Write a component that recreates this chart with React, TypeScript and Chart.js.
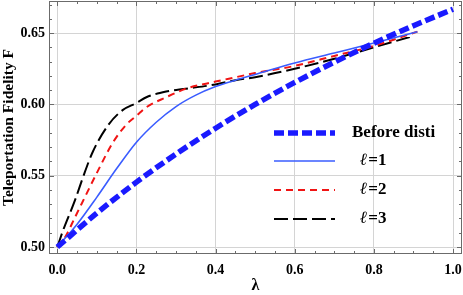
import React, { useEffect, useRef } from 'react';
import { Chart, registerables } from 'chart.js';

Chart.register(...registerables);

// ---- data ----
const lambdaBefore = [0, 0.1, 0.2, 0.3, 0.4, 0.5, 0.6, 0.7, 0.8, 0.9, 1.0];
const fidelityBefore = [0.5, 0.5238, 0.5455, 0.5652, 0.5833, 0.6, 0.6154, 0.6296, 0.6429, 0.6552, 0.6667];

const lambdaL1 = [0, 0.05, 0.1, 0.15, 0.2, 0.25, 0.3, 0.35, 0.4, 0.45, 0.5, 0.6, 0.7, 0.8, 0.91];
const fidelityL1 = [0.5, 0.516, 0.535, 0.555, 0.5735, 0.5875, 0.5985, 0.6065, 0.6125, 0.617, 0.621, 0.629, 0.636, 0.643, 0.651];

const lambdaL2 = [0, 0.02, 0.045, 0.075, 0.1, 0.14, 0.175, 0.2, 0.225, 0.275, 0.325, 0.4, 0.45, 0.5, 0.6, 0.7, 0.8, 0.91];
const fidelityL2 = [0.5, 0.507, 0.521, 0.538, 0.552, 0.573, 0.586, 0.592, 0.598, 0.605, 0.611, 0.616, 0.619, 0.622, 0.627, 0.634, 0.641, 0.651];

const lambdaL3 = [0, 0.015, 0.045, 0.065, 0.09, 0.13, 0.165, 0.2, 0.225, 0.275, 0.325, 0.4, 0.45, 0.5, 0.6, 0.7, 0.8, 0.9];
const fidelityL3 = [0.5, 0.512, 0.533, 0.549, 0.567, 0.586, 0.596, 0.601, 0.605, 0.609, 0.611, 0.614, 0.617, 0.619, 0.625, 0.632, 0.640, 0.648];

const xMajorTicks = [0, 0.2, 0.4, 0.6, 0.8, 1.0];
const yMajorTicks = [0.5, 0.55, 0.6, 0.65];
const xMinorTicks = [0.05, 0.1, 0.15, 0.25, 0.3, 0.35, 0.45, 0.5, 0.55, 0.65, 0.7, 0.75, 0.85, 0.9, 0.95];
const yMinorTicks = [0.51, 0.52, 0.53, 0.54, 0.56, 0.57, 0.58, 0.59, 0.61, 0.62, 0.63, 0.64, 0.66, 0.67];

const seriesLabels = ['Before disti', 'ℓ=1', 'ℓ=2', 'ℓ=3'];
const xTitle = 'λ';
const yTitle = 'Teleportation Fidelity F';

const toPoints = (xs: number[], ys: number[]) => xs.map((x, i) => ({ x, y: ys[i] }));

const SERIF = "'Liberation Serif', 'Times New Roman', serif";

const zeroPad = (scale: any) => {
  scale.paddingLeft = 0;
  scale.paddingRight = 0;
  scale.paddingTop = 0;
  scale.paddingBottom = 0;
};

const framePlugin = {
  id: 'framePlugin',
  afterDatasetsDraw(chart: any) {
    const { ctx, chartArea: a, scales } = chart;
    const xs = scales.x;
    const ys = scales.y;
    ctx.save();
    ctx.strokeStyle = '#6b6b6b';
    ctx.lineWidth = 1;
    ctx.setLineDash([]);
    ctx.strokeRect(a.left + 0.5, a.top + 0.5, a.right - a.left - 1, a.bottom - a.top - 1);
    const tick = (x1: number, y1: number, x2: number, y2: number) => {
      ctx.beginPath();
      ctx.moveTo(x1, y1);
      ctx.lineTo(x2, y2);
      ctx.stroke();
    };
    xMajorTicks.forEach((v) => {
      const p = Math.round(xs.getPixelForValue(v)) + 0.5;
      tick(p, a.bottom, p, a.bottom - 5);
      tick(p, a.top, p, a.top + 5);
    });
    xMinorTicks.forEach((v) => {
      const p = Math.round(xs.getPixelForValue(v)) + 0.5;
      tick(p, a.bottom, p, a.bottom - 3);
      tick(p, a.top, p, a.top + 3);
    });
    yMajorTicks.forEach((v) => {
      const p = Math.round(ys.getPixelForValue(v)) + 0.5;
      tick(a.left, p, a.left + 5, p);
      tick(a.right, p, a.right - 5, p);
    });
    yMinorTicks.forEach((v) => {
      const p = Math.round(ys.getPixelForValue(v)) + 0.5;
      tick(a.left, p, a.left + 3, p);
      tick(a.right, p, a.right - 3, p);
    });
    ctx.restore();
  },
};

const legendPlugin = {
  id: 'customLegend',
  afterDraw(chart: any) {
    const { ctx } = chart;
    const rowsY = [133, 161, 190, 219];
    const lineX1 = 274;
    const lineX2 = 335;
    ctx.save();
    chart.data.datasets.forEach((ds: any, i: number) => {
      const y = rowsY[i];
      ctx.strokeStyle = ds.borderColor;
      ctx.lineWidth = ds.borderWidth;
      ctx.setLineDash(ds.borderDash || []);
      ctx.lineCap = 'butt';
      ctx.beginPath();
      ctx.moveTo(lineX1, y);
      ctx.lineTo(lineX2, y);
      ctx.stroke();
      ctx.setLineDash([]);
      ctx.fillStyle = '#000';
      ctx.textBaseline = 'middle';
      ctx.textAlign = 'left';
      const label: string = ds.label;
      if (label.startsWith('ℓ')) {
        ctx.font = `italic bold 17px ${SERIF}`;
        ctx.fillText('ℓ', 360, y);
        const w = ctx.measureText('ℓ').width;
        ctx.font = `bold 17px ${SERIF}`;
        ctx.fillText(label.slice(1), 360 + w + 1, y);
      } else {
        ctx.font = `bold 17px ${SERIF}`;
        ctx.fillText(label, 352, y);
      }
    });
    ctx.restore();
  },
};

export default function App() {
  const canvasRef = useRef<HTMLCanvasElement | null>(null);

  useEffect(() => {
    if (!canvasRef.current) return;
    const chart = new Chart(canvasRef.current, {
      type: 'line',
      data: {
        datasets: [
          {
            label: seriesLabels[0],
            data: toPoints(lambdaBefore, fidelityBefore),
            borderColor: '#1a1aff',
            borderWidth: 5.5,
            borderDash: [10, 4],
            borderCapStyle: 'butt',
            pointRadius: 0,
            cubicInterpolationMode: 'monotone',
            fill: false,
          },
          {
            label: seriesLabels[1],
            data: toPoints(lambdaL1, fidelityL1),
            borderColor: '#3a5cff',
            borderWidth: 1.6,
            pointRadius: 0,
            cubicInterpolationMode: 'monotone',
            fill: false,
          },
          {
            label: seriesLabels[2],
            data: toPoints(lambdaL2, fidelityL2),
            borderColor: '#f01414',
            borderWidth: 2,
            borderDash: [7, 5],
            borderCapStyle: 'butt',
            pointRadius: 0,
            cubicInterpolationMode: 'monotone',
            fill: false,
          },
          {
            label: seriesLabels[3],
            data: toPoints(lambdaL3, fidelityL3),
            borderColor: '#000000',
            borderWidth: 2,
            borderDash: [14, 5],
            borderCapStyle: 'butt',
            pointRadius: 0,
            cubicInterpolationMode: 'monotone',
            fill: false,
          },
        ],
      },
      options: {
        animation: false,
        responsive: false,
        maintainAspectRatio: false,
        layout: { padding: { top: 1, right: 1, left: 0, bottom: 0 } },
        plugins: {
          legend: { display: false },
          tooltip: { enabled: false },
        },
        scales: {
          x: {
            type: 'linear',
            min: -0.021,
            max: 1.0227,
            afterBuildTicks: (scale: any) => {
              scale.ticks = xMajorTicks.map((v) => ({ value: v }));
            },
            afterFit: (scale: any) => {
              scale.height = 41;
              zeroPad(scale);
            },
            grid: { color: '#d4d4d4', drawTicks: false, lineWidth: 1 },
            border: { display: false },
            ticks: {
              padding: 8,
              color: '#000',
              font: { family: SERIF, weight: 'bold', size: 14 },
              callback: (v: any) => Number(v).toFixed(1),
              maxRotation: 0,
            },
            title: {
              display: true,
              text: xTitle,
              color: '#000',
              font: { family: SERIF, weight: 'bold', size: 16 },
              padding: { top: 3, bottom: 0 },
            },
          },
          y: {
            type: 'linear',
            min: 0.4951,
            max: 0.6725,
            afterBuildTicks: (scale: any) => {
              scale.ticks = yMajorTicks.map((v) => ({ value: v }));
            },
            afterFit: (scale: any) => {
              scale.width = 49;
              zeroPad(scale);
            },
            grid: { color: '#d4d4d4', drawTicks: false, lineWidth: 1 },
            border: { display: false },
            ticks: {
              padding: 4,
              color: '#000',
              font: { family: SERIF, weight: 'bold', size: 14 },
              callback: (v: any) => Number(v).toFixed(2),
            },
            title: {
              display: true,
              text: yTitle,
              color: '#000',
              font: { family: SERIF, weight: 'bold', size: 15.5 },
              padding: { top: 0, bottom: 0 },
            },
          },
        },
      },
      plugins: [framePlugin, legendPlugin],
    } as any);
    return () => chart.destroy();
  }, []);

  return (
    <div style={{ position: 'fixed', left: 0, top: 0, width: 463, height: 295, background: '#fff' }}>
      <canvas ref={canvasRef} width={463} height={295} style={{ width: 463, height: 295 }} />
    </div>
  );
}
